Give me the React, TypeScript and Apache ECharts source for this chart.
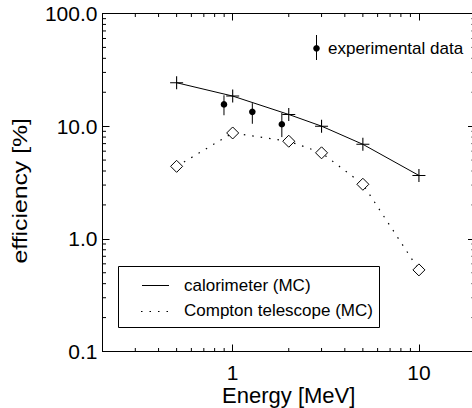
import React, { useEffect, useRef } from 'react';
import * as echarts from 'echarts';

// ---- data ----
const energies = [0.5, 1, 2, 3, 5, 10];
const calorimeter = [24.3, 18.5, 12.7, 10.0, 6.9, 3.65];
const compton = [4.4, 8.7, 7.35, 5.8, 3.05, 0.53];
const expEnergies = [0.898, 1.275, 1.836];
const expValues = [15.6, 13.4, 10.4];
const expLow = [12.5, 10.5, 8.0];
const expHigh = [18.8, 16.0, 13.1];
const xTickLabels = [1, 10];
const yTickLabels = [0.1, 1, 10, 100];
const xMinorTicks = [0.3, 0.4, 0.5, 0.6, 0.7, 0.8, 0.9, 2, 3, 4, 5, 6, 7, 8, 9];
const yMinorTicks = [
  0.2, 0.3, 0.4, 0.5, 0.6, 0.7, 0.8, 0.9,
  2, 3, 4, 5, 6, 7, 8, 9,
  20, 30, 40, 50, 60, 70, 80, 90,
];
const xMin = 0.2;
const xMax = 20;
const yMin = 0.1;
const yMax = 100;

const FONT = '"Liberation Sans", Arial, Helvetica, sans-serif';
const PLUS = 'path://M0,5.5H12V6.5H0Z M5.5,0H6.5V12H5.5Z';
const DOT_DASH = [1.5, 7];

const isTick = (list: number[], v: number) => list.some((t) => Math.abs(t - v) / t < 1e-6);

export default function App() {
  const ref = useRef<HTMLDivElement>(null);

  useEffect(() => {
    if (!ref.current) return;
    const chart = echarts.init(ref.current, undefined, { renderer: 'svg' });

    const axisCommon = {
      type: 'log' as const,
      logBase: 10,
      axisLine: { show: true, onZero: false, lineStyle: { color: '#000', width: 1 } },
      axisTick: { show: true, inside: true, length: 7, lineStyle: { color: '#000', width: 1 } },
      splitLine: { show: false },
      minorTick: { show: false },
      minorSplitLine: { show: false },
    };

    const minorTickStyle = { stroke: '#000', lineWidth: 1 };
    const MINOR_LEN = 3.5;

    chart.setOption({
      animation: false,
      backgroundColor: '#fff',
      grid: {
        left: 102.5,
        top: 13.5,
        width: 372.5,
        height: 338,
        containLabel: false,
        outerBoundsMode: 'none',
      },
      xAxis: [
        {
          ...axisCommon,
          min: xMin,
          max: xMax,
          position: 'bottom',
          axisLabel: {
            show: true,
            color: '#000',
            fontSize: 21,
            fontFamily: FONT,
            margin: 10,
            formatter: (v: number) => (isTick(xTickLabels, v) ? String(Math.round(v)) : ''),
          },
        },
        {
          ...axisCommon,
          min: xMin,
          max: xMax,
          position: 'top',
          axisLabel: { show: false },
        },
      ],
      yAxis: [
        {
          ...axisCommon,
          min: yMin,
          max: yMax,
          position: 'left',
          axisLabel: {
            show: true,
            color: '#000',
            fontSize: 21,
            fontFamily: FONT,
            margin: 5,
            formatter: (v: number) => (isTick(yTickLabels, v) ? v.toFixed(1) : ''),
          },
        },
        {
          ...axisCommon,
          min: yMin,
          max: yMax,
          position: 'right',
          axisLabel: { show: false },
        },
      ],
      series: [
        {
          name: 'calorimeter (MC)',
          type: 'line',
          xAxisIndex: 0,
          yAxisIndex: 0,
          data: energies.map((e, i) => [e, calorimeter[i]]),
          symbol: PLUS,
          symbolSize: 13,
          itemStyle: { color: '#000' },
          lineStyle: { color: '#000', width: 1 },
          z: 3,
        },
        {
          name: 'Compton telescope (MC)',
          type: 'line',
          xAxisIndex: 0,
          yAxisIndex: 0,
          data: energies.map((e, i) => [e, compton[i]]),
          symbol: 'diamond',
          symbolSize: 12,
          itemStyle: { color: '#fff', borderColor: '#000', borderWidth: 1 },
          lineStyle: { color: '#000', width: 1.2, type: DOT_DASH },
          z: 3,
        },
        {
          name: 'experimental data',
          type: 'custom',
          xAxisIndex: 0,
          yAxisIndex: 0,
          data: expEnergies.map((e, i) => [e, expValues[i], expLow[i], expHigh[i]]),
          encode: { x: 0, y: 1 },
          renderItem: (_params: any, api: any) => {
            const p = api.coord([api.value(0), api.value(1)]);
            const lo = api.coord([api.value(0), api.value(2)]);
            const hi = api.coord([api.value(0), api.value(3)]);
            return {
              type: 'group',
              children: [
                {
                  type: 'line',
                  shape: { x1: p[0], y1: lo[1], x2: p[0], y2: hi[1] },
                  style: { stroke: '#000', lineWidth: 1 },
                },
                {
                  type: 'circle',
                  shape: { cx: p[0], cy: p[1], r: 3.3 },
                  style: { fill: '#000' },
                },
              ],
            };
          },
          z: 4,
        },
        {
          name: 'x minor ticks',
          type: 'custom',
          silent: true,
          xAxisIndex: 0,
          yAxisIndex: 0,
          data: xMinorTicks.map((v) => [v, yMin]),
          renderItem: (_params: any, api: any) => {
            const v = api.value(0);
            const b = api.coord([v, yMin]);
            const t = api.coord([v, yMax]);
            return {
              type: 'group',
              children: [
                { type: 'line', shape: { x1: b[0], y1: b[1], x2: b[0], y2: b[1] - MINOR_LEN }, style: minorTickStyle },
                { type: 'line', shape: { x1: t[0], y1: t[1], x2: t[0], y2: t[1] + MINOR_LEN }, style: minorTickStyle },
              ],
            };
          },
        },
        {
          name: 'y minor ticks',
          type: 'custom',
          silent: true,
          xAxisIndex: 0,
          yAxisIndex: 0,
          data: yMinorTicks.map((v) => [xMin, v]),
          renderItem: (_params: any, api: any) => {
            const v = api.value(1);
            const l = api.coord([xMin, v]);
            const r = api.coord([xMax, v]);
            return {
              type: 'group',
              children: [
                { type: 'line', shape: { x1: l[0], y1: l[1], x2: l[0] + MINOR_LEN, y2: l[1] }, style: minorTickStyle },
                { type: 'line', shape: { x1: r[0], y1: r[1], x2: r[0] - MINOR_LEN, y2: r[1] }, style: minorTickStyle },
              ],
            };
          },
        },
      ],
      graphic: [
        {
          type: 'text',
          x: 20,
          y: 190.8,
          rotation: Math.PI / 2,
          scaleX: 1.18,
          style: {
            text: 'efficiency [%]',
            fontSize: 21,
            fontFamily: FONT,
            fill: '#000',
            textAlign: 'center',
            textVerticalAlign: 'middle',
          },
        },
        {
          type: 'text',
          x: 288.7,
          y: 395.4,
          style: {
            text: 'Energy [MeV]',
            fontSize: 22,
            fontFamily: FONT,
            fill: '#000',
            textAlign: 'center',
            textVerticalAlign: 'middle',
          },
        },
        // experimental data legend
        {
          type: 'line',
          z: 10,
          shape: { x1: 316.5, y1: 35, x2: 316.5, y2: 60 },
          style: { stroke: '#000', lineWidth: 1 },
        },
        {
          type: 'circle',
          z: 10,
          shape: { cx: 316.5, cy: 48.3, r: 3.3 },
          style: { fill: '#000' },
        },
        {
          type: 'text',
          z: 10,
          x: 328,
          y: 48,
          style: {
            text: 'experimental data',
            fontSize: 17,
            fontFamily: FONT,
            fill: '#000',
            textAlign: 'left',
            textVerticalAlign: 'middle',
          },
        },
        // MC legend box
        {
          type: 'rect',
          z: 10,
          shape: { x: 118.5, y: 266.5, width: 261, height: 61 },
          style: { fill: '#fff', stroke: '#000', lineWidth: 1 },
        },
        {
          type: 'line',
          z: 11,
          shape: { x1: 142, y1: 285.5, x2: 169, y2: 285.5 },
          style: { stroke: '#000', lineWidth: 1 },
        },
        {
          type: 'line',
          z: 11,
          shape: { x1: 141, y1: 311.5, x2: 170, y2: 311.5 },
          style: { stroke: '#000', lineWidth: 1.2, lineDash: DOT_DASH },
        },
        {
          type: 'text',
          z: 11,
          x: 184,
          y: 285,
          style: {
            text: 'calorimeter (MC)',
            fontSize: 17,
            fontFamily: FONT,
            fill: '#000',
            textAlign: 'left',
            textVerticalAlign: 'middle',
          },
        },
        {
          type: 'text',
          z: 11,
          x: 184,
          y: 310.5,
          style: {
            text: 'Compton telescope (MC)',
            fontSize: 17,
            fontFamily: FONT,
            fill: '#000',
            textAlign: 'left',
            textVerticalAlign: 'middle',
          },
        },
      ],
    });

    return () => chart.dispose();
  }, []);

  return (
    <div
      ref={ref}
      style={{ position: 'fixed', left: 0, top: 0, width: 472, height: 408, background: '#fff' }}
    />
  );
}
